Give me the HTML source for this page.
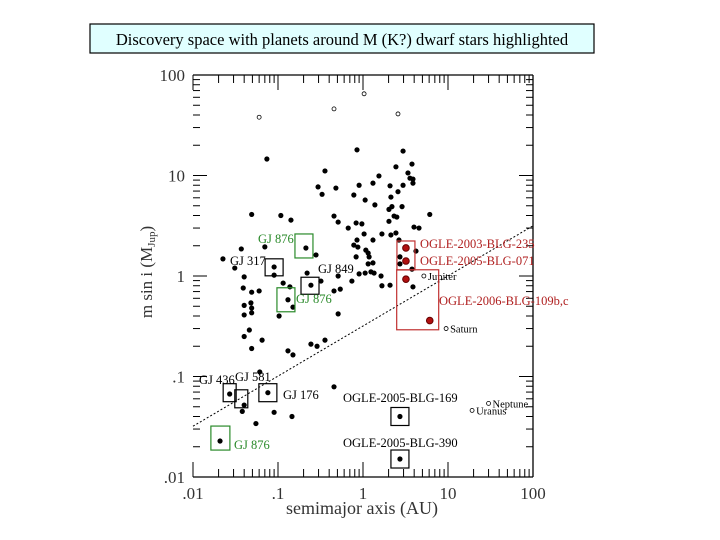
<!DOCTYPE html>
<html><head><meta charset="utf-8"><style>
html,body{margin:0;padding:0;background:#fff;width:720px;height:540px;overflow:hidden}
svg{display:block}
text{font-family:"Liberation Serif",serif}
</style></head><body>
<svg id="chart" width="720" height="540" xmlns="http://www.w3.org/2000/svg">
<rect x="90" y="24" width="504" height="29" fill="#e0ffff" stroke="#000" stroke-width="1.2"/>
<text x="342" y="45" font-size="16.5" text-anchor="middle">Discovery space with planets around M (K?) dwarf stars highlighted</text>
<g id="axes"></g><g id="marks"></g>
</svg>
<script>
const planetA=[0.0225,0.031,0.037,0.049,0.074,0.070,0.090,0.090,0.108,0.142,0.213,0.28,0.22,0.244,0.32,0.040,0.039,0.049,0.060,0.040,0.048,0.049,0.131,0.150,0.103,0.115,0.138,0.357,0.296,0.33,0.48,0.85,0.90,1.31,1.54,0.78,1.06,1.38,2.08,2.13,2.44,2.96,2.96,2.58,3.38,3.57,3.87,3.87,3.77,2.02,2.19,2.88,2.32,2.5,2.02,2.44,2.13,1.67,0.456,0.51,0.67,0.83,0.97,1.03,0.85,1.31,0.78,0.87,1.08,1.15,0.83,1.18,1.15,1.31,1.24,1.35,0.90,1.06,1.63,0.51,0.74,1.67,2.08,0.456,0.54,2.72,2.72,3.98,4.56,6.1,4.2,3.77,3.87,2.65,0.040,0.049,0.51,0.046,0.040,0.065,0.049,0.131,0.150,0.244,0.288,0.357,0.061,0.456,0.027,0.040,0.038,0.076,0.090,0.146,0.055,0.0208,2.72,2.72];
const planetM=[1.48,1.2,1.86,4.1,14.6,1.95,1.23,1.02,4.0,3.6,1.9,1.62,1.07,0.81,0.89,0.98,0.76,0.69,0.71,0.51,0.54,0.48,0.58,0.49,0.40,0.85,0.78,11.1,7.7,6.5,7.5,18,8.0,8.4,9.9,6.4,5.7,5.1,7.9,6.1,12.2,17.5,8.0,6.9,10.6,9.4,9.2,8.4,13,4.6,4.9,4.9,3.95,3.86,3.5,2.68,2.56,2.62,3.95,3.44,3.0,3.37,3.3,2.62,2.28,2.28,2.03,1.94,1.81,1.69,1.55,1.55,1.32,1.35,1.1,1.07,1.05,1.07,1.0,1.0,0.89,0.80,0.81,0.71,0.74,1.55,1.32,3.07,3.0,4.1,1.77,1.17,0.78,2.28,0.41,0.43,0.42,0.29,0.25,0.23,0.19,0.18,0.164,0.21,0.20,0.23,0.111,0.079,0.067,0.052,0.045,0.069,0.044,0.040,0.034,0.0228,0.040,0.0151];
const redA=[3.2,3.2,3.2,6.1];
const redM=[1.9,1.41,0.93,0.36];
const openA=[0.060,0.456,1.03,2.58];
const openM=[38,46,65,41];
const solarNames=["Jupiter","Saturn","Uranus","Neptune"];
const solarA=[5.2,9.5,19.2,30];
const solarM=[1.0,0.30,0.046,0.054];
const limitA=[0.01,100];
const limitM=[0.032,3.16];
const xTicks=[0.01,0.1,1,10,100];
const xTickLabels=[".01",".1","1","10","100"];
const yTicks=[100,10,1,0.1,0.01];
const yTickLabels=["100","10","1",".1",".01"];
const boxNames=["gj876-a","gj317","gj849","gj876-b","ogle-235-071","ogle-109","gj436","gj581","gj176","gj876-c","ogle-169","ogle-390"];
const boxA=[0.202,0.090,0.238,0.124,3.2,4.4,0.027,0.037,0.076,0.021,2.72,2.72];
const boxM=[1.99,1.22,0.80,0.58,1.6,0.58,0.069,0.060,0.069,0.0244,0.040,0.0151];
const boxW=[18,18,18,18,18,42,13,13,18,19,18,18];
const boxH=[24,17,17,24,29,60,18,18,18,24,18,18];
const boxColor=["#2a8a2a","#000","#000","#2a8a2a","#c03030","#c03030","#000","#000","#000","#2a8a2a","#000","#000"];

const X0=193,X1=533,Y0=477,Y1=75;
const xs=a=>X0+(Math.log10(a)+2)/4*(X1-X0);
const ys=m=>Y0-(Math.log10(m)+2)/4*(Y0-Y1);
const NS="http://www.w3.org/2000/svg";
function mk(tag,attrs,parent){const e=document.createElementNS(NS,tag);for(const k in attrs)e.setAttribute(k,attrs[k]);parent.appendChild(e);return e;}
const ax=document.getElementById('axes'),mg=document.getElementById('marks');

let l=mk('line',{x1:X0,y1:Y0,x2:X1,y2:Y0,stroke:'#000','stroke-width':1.3},ax);


l=mk('line',{x1:X0,y1:Y1,x2:X1,y2:Y1,stroke:'#000','stroke-width':1.3},ax);


l=mk('line',{x1:X1,y1:Y1,x2:X1,y2:Y0,stroke:'#000','stroke-width':1.3},ax);



for(let d=0;d<4;d++){for(let k=1;k<10;k++){
  const v=Math.pow(10,d-2)*k;const x=xs(v);const L=k===1?15:8;
  let t=mk('line',{x1:x,y1:Y0,x2:x,y2:Y0-L,stroke:'#000','stroke-width':1},ax);
  
  
  t=mk('line',{x1:x,y1:Y1,x2:x,y2:Y1+L,stroke:'#000','stroke-width':1},ax);
  
  
  const y=ys(v);const Ly=k===1?14:7;
  t=mk('line',{x1:X0,y1:y,x2:X0+Ly,y2:y,stroke:'#000','stroke-width':1},ax);
  
  
  t=mk('line',{x1:X1,y1:y,x2:X1-Ly,y2:y,stroke:'#000','stroke-width':1},ax);
  
  
}}
xTicks.forEach((v,i)=>{const t=mk('text',{x:xs(v),y:499,'font-size':17,'text-anchor':'middle',fill:'#333'},ax);t.textContent=xTickLabels[i];
  
  });
yTicks.forEach((v,i)=>{const t=mk('text',{x:185,y:ys(v)+6,'font-size':17,'text-anchor':'end',fill:'#333'},ax);t.textContent=yTickLabels[i];
  
  });
let tt=mk('text',{x:362,y:514,'font-size':18,'text-anchor':'middle',fill:'#333'},ax);tt.textContent='semimajor axis (AU)';


tt=mk('text',{x:0,y:0,'font-size':17,'text-anchor':'middle',fill:'#333',transform:'translate(152,272) rotate(-90)'},ax);tt.textContent='m sin i  (M';
const sub=mk('tspan',{'font-size':11,dy:3},tt);sub.textContent='Jup';
const cl=mk('tspan',{dy:-3},tt);cl.textContent=')';



l=mk('line',{x1:xs(limitA[0]),y1:ys(limitM[0]),x2:xs(limitA[1]),y2:ys(limitM[1]),stroke:'#000','stroke-width':1,'stroke-dasharray':'2,2'},mg);



planetA.forEach((a,i)=>{const c=mk('circle',{cx:xs(a),cy:ys(planetM[i]),r:2.6,fill:'#000'},mg);
  
  });
redA.forEach((a,i)=>{const c=mk('circle',{cx:xs(a),cy:ys(redM[i]),r:3.3,fill:'#b01010',stroke:'#600'},mg);
  
  });
openA.forEach((a,i)=>{const c=mk('circle',{cx:xs(a),cy:ys(openM[i]),r:2,fill:'none',stroke:'#000','stroke-width':0.8},mg);
  
  });
solarA.forEach((a,i)=>{const x=xs(a),y=ys(solarM[i]);
  const c=mk('circle',{cx:x,cy:y,r:2,fill:'none',stroke:'#000','stroke-width':0.8},mg);
  
  
  const t=mk('text',{x:x+4,y:y+4,'font-size':10.5},mg);t.textContent=solarNames[i];
  
  });
boxA.forEach((a,i)=>{const x=xs(a),y=ys(boxM[i]);
  const r=mk('rect',{x:x-boxW[i]/2,y:y-boxH[i]/2,width:boxW[i],height:boxH[i],fill:'none',stroke:boxColor[i],'stroke-width':1.2},mg);
  
  });

const labels=[["GJ 876",258,243,"#2a8a2a"],["GJ 317",230,265,"#000"],["GJ 849",318,273,"#000"],["GJ 876",296,303,"#2a8a2a"],
["OGLE-2003-BLG-235",420,248,"#b02020"],["OGLE-2005-BLG-071",420,265,"#b02020"],["OGLE-2006-BLG-109b,c",439,305,"#b02020"],
["GJ 436",199,384,"#000"],["GJ 581",235,381,"#000"],["GJ 176",283,399,"#000"],["OGLE-2005-BLG-169",343,402,"#000"],
["GJ 876",234,449,"#2a8a2a"],["OGLE-2005-BLG-390",343,447,"#000"]];
labels.forEach(L=>{const t=mk('text',{x:L[1],y:L[2],'font-size':12.5,fill:L[3]},mg);t.textContent=L[0];
  
  });
</script>
</body></html>
